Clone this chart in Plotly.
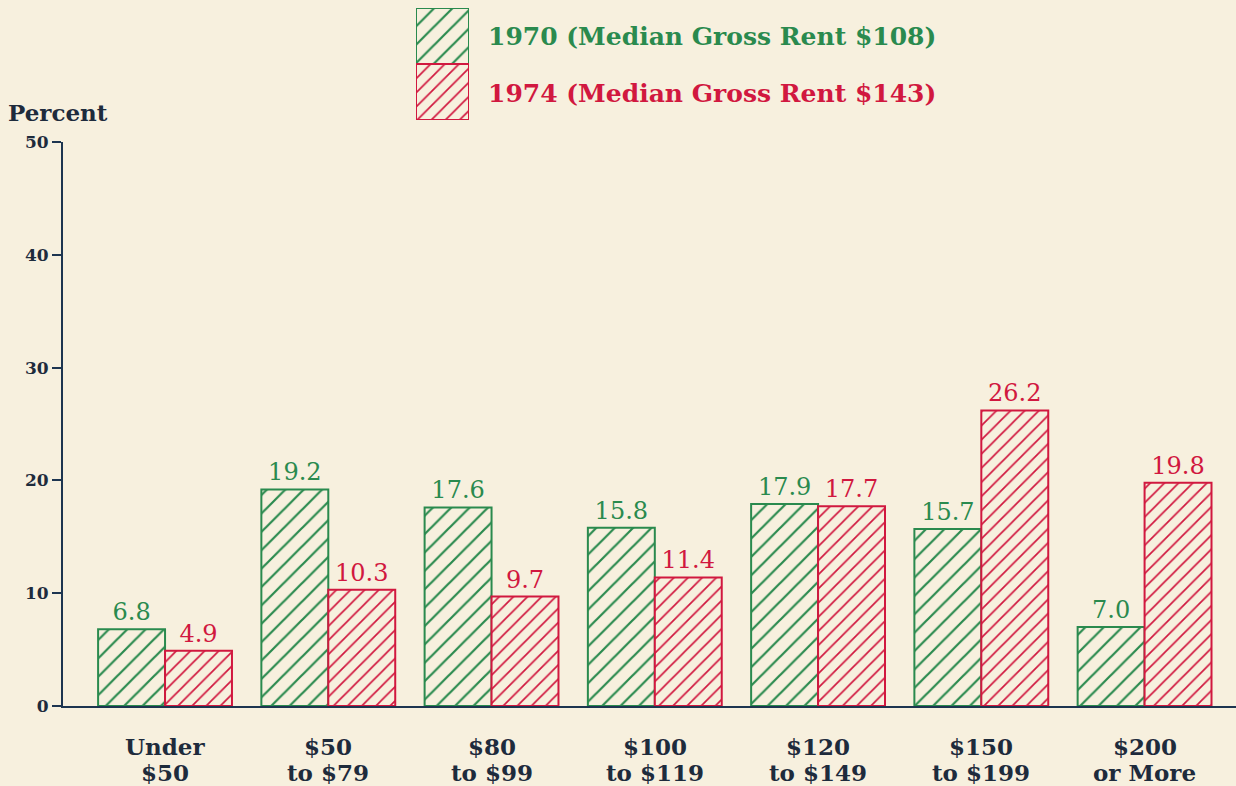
import plotly.graph_objects as go

categories = ["Under<br>$50", "$50<br>to $79", "$80<br>to $99", "$100<br>to $119",
              "$120<br>to $149", "$150<br>to $199", "$200<br>or More"]
pct_1970 = [6.8, 19.2, 17.6, 15.8, 17.9, 15.7, 7.0]
pct_1974 = [4.9, 10.3, 9.7, 11.4, 17.7, 26.2, 19.8]
y_ticks = [0, 10, 20, 30, 40, 50]
legend_labels = ["1970 (Median Gross Rent $108)", "1974 (Median Gross Rent $143)"]

BG = "#f7f0de"
GREEN = "#2a8a4e"
RED = "#d1183f"
INK = "#1e2b3c"
AXIS = "#1d3550"
SERIF = "DejaVu Serif"

W, H = 1236, 786
PLOT_TOP, PLOT_BOTTOM, PLOT_LEFT = 142, 706, 63

fig = go.Figure()

def bar_style(color, size):
    return dict(
        color=BG,
        line=dict(color=color, width=2),
        pattern=dict(shape="/", fgcolor=color, fgopacity=1, bgcolor=BG,
                     size=size, solidity=0.17),
    )

fig.add_trace(go.Bar(
    x=categories, y=pct_1970, name=legend_labels[0],
    marker=bar_style(GREEN, 13),
    texttemplate="%{y:.1f}", textposition="outside",
    textfont=dict(family=SERIF, size=24, color=GREEN),
    cliponaxis=False,
))
fig.add_trace(go.Bar(
    x=categories, y=pct_1974, name=legend_labels[1],
    marker=bar_style(RED, 10),
    texttemplate="%{y:.1f}", textposition="outside",
    textfont=dict(family=SERIF, size=24, color=RED),
    cliponaxis=False,
))

# Legend key boxes, stacked on a small auxiliary axis pair above the chart
for base, color, size in [(1, GREEN, 13), (0, RED, 10)]:
    fig.add_trace(go.Bar(x=[0], y=[1], base=[base], xaxis="x2", yaxis="y2", width=[1],
                         offsetgroup="key", marker=bar_style(color, size),
                         showlegend=False, hoverinfo="skip"))

plot_h = H - 80
ydom_top = (PLOT_BOTTOM - PLOT_TOP) / plot_h
plot_w = W - PLOT_LEFT

def px_x(p):
    return (p - PLOT_LEFT) / plot_w

def px_y(p):
    return (PLOT_BOTTOM - p) / plot_h

fig.update_layout(
    width=W, height=H,
    margin=dict(l=PLOT_LEFT, r=0, t=0, b=80, autoexpand=False),
    paper_bgcolor=BG, plot_bgcolor=BG,
    barmode="group", bargap=0.18, bargroupgap=0,
    showlegend=False,
    xaxis=dict(
        range=[-0.625, 6.56], showline=True, linecolor=AXIS, linewidth=2,
        ticks="", showgrid=False, zeroline=False, showticklabels=False,
    ),
    yaxis=dict(
        domain=[0, ydom_top], range=[0, 50], tickvals=y_ticks,
        showline=True, linecolor=AXIS, linewidth=2,
        ticks="outside", ticklen=9, tickwidth=2, tickcolor=AXIS,
        showgrid=False, zeroline=False,
        tickfont=dict(family=SERIF, size=17, color=INK, weight="bold"),
    ),
    xaxis2=dict(domain=[px_x(416), px_x(469)], range=[-0.5, 0.5], visible=False,
                anchor="y2"),
    yaxis2=dict(domain=[px_y(120), px_y(8)], range=[0, 2], visible=False,
                anchor="x2"),
)

# Category labels: two tightly spaced lines under each group
for cat in categories:
    for line, ypix in zip(cat.split("<br>"), (746, 772)):
        fig.add_annotation(
            text=line, x=cat, xref="x", yref="paper", y=px_y(ypix),
            xanchor="center", yanchor="middle", showarrow=False,
            font=dict(family=SERIF, size=23, color=INK, weight="bold"),
        )

fig.add_annotation(
    text="Percent", xref="paper", yref="paper",
    x=px_x(6), y=px_y(112), xanchor="left", yanchor="middle",
    showarrow=False, font=dict(family=SERIF, size=23, color=INK, weight="bold"),
)
for label, color, ypix in [(legend_labels[0], GREEN, 37), (legend_labels[1], RED, 93)]:
    fig.add_annotation(
        text=label, xref="paper", yref="paper",
        x=px_x(486), y=px_y(ypix), xanchor="left", yanchor="middle",
        showarrow=False, font=dict(family=SERIF, size=25, color=color, weight="bold"),
    )

fig.write_html("out.html")
